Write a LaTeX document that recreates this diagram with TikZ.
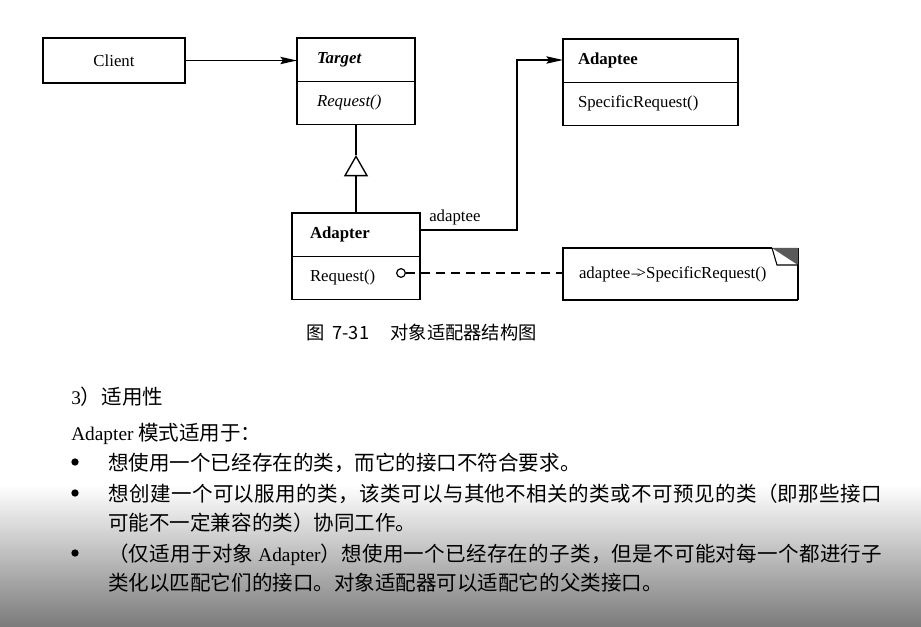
\documentclass[tikz,border=0pt]{standalone}
\usepackage{fontspec}
\setmainfont{Liberation Serif}
\newfontfamily\cjk{Noto Sans CJK SC}
\usetikzlibrary{arrows.meta,shapes.multipart,positioning}
\XeTeXlinebreaklocale "zh"
\XeTeXlinebreakskip=0pt plus 2pt
\newcommand{\lat}[1]{{\rmfamily\fontsize{14.5}{22.4}\selectfont #1}}

\begin{document}
\begin{tikzpicture}[x=0.75pt, y=-0.75pt,
    umlbox/.style={draw, line width=1pt, rectangle split, rectangle split parts=2,
        rectangle split part align={left,left}, anchor=north west, outer sep=0pt,
        inner ysep=8.25pt, font=\fontsize{12.6}{15}\selectfont},
    plainbox/.style={draw, line width=1pt, anchor=north west, outer sep=0pt,
        minimum width=106.5pt, minimum height=33.75pt, font=\fontsize{12.6}{15}\selectfont},
    notebox/.style={anchor=north west, outer sep=0pt, inner xsep=12pt,
        minimum height=39pt, text width=152.25pt, align=left,
        font=\fontsize{12.6}{15}\selectfont},
    assoc/.style={line width=1pt, -{Stealth[length=12.5pt, width=5.5pt, inset=2pt]}},
    realize/.style={line width=1pt, dash pattern=on 6.75pt off 4.5pt},
    dot/.style={circle, fill, inner sep=0pt, minimum size=5.5pt},
    textline/.style={anchor=base west, inner sep=0pt, font=\cjk\fontsize{15.4}{22.4}\selectfont},
    para/.style={textline, text width=580.5pt, align=justify}]
  \useasboundingbox (0,0) rectangle (921,627);
  \shade[top color=white, bottom color=black!52] (0,485) rectangle (921,627);

  % class structure
  \node[plainbox] (client) at (43,38) {Client};
  \node[umlbox, minimum width=88.5pt, inner xsep=15pt] (target) at (297,38)
      {\strut\textbf{\textit{Target}}\nodepart{two}\strut\textit{Request()}};
  \node[umlbox, minimum width=131.25pt, inner xsep=11.25pt] (adaptee) at (563,39)
      {\strut\textbf{Adaptee}\nodepart{two}\strut SpecificRequest()};
  \node[umlbox, minimum width=96pt, inner xsep=13.5pt] (adapter) at (292,213)
      {\strut\textbf{Adapter}\nodepart{two}\strut Request()};
  \node[circle, draw, line width=0.9pt, minimum size=6.5pt, inner sep=0pt] (call) at (401,273) {};
  \node[notebox] (note) at (563,248) {adaptee\kern1pt--\kern-2.5pt>SpecificRequest()};

  % note outline with folded corner
  \draw[line width=1pt] ([xshift=-19.5pt]note.north east) -- (note.north west)
      -- (note.south west) -- (note.south east);
  \draw[line width=1.7pt] (note.north east) -- (note.south east);
  \fill[black!65] ([xshift=-19.5pt]note.north east) -- (note.north east)
      -- ([yshift=-12.75pt]note.north east) -- cycle;
  \draw[line width=0.8pt] ([xshift=-19.5pt]note.north east)
      -- ([xshift=-15.75pt,yshift=-12.75pt]note.north east) -- ([yshift=-12.75pt]note.north east);

  \draw[assoc] (client.east) -- (client.east -| target.west);
  \coordinate (gen) at (356,155);
  \draw[line width=1pt, -{Triangle[open, length=16pt, width=18pt]}] (adapter.north) -- (gen);
  \draw[line width=1pt] (gen) -- (target.south);
  \draw[assoc] ([yshift=-12.75pt]adapter.north east)
      -- node[above, pos=0.36, font=\fontsize{12.6}{15}\selectfont] {adaptee} ++(97,0)
      |- ([yshift=-15.75pt]adaptee.north west);
  \draw[realize] (call) -- (call -| note.west);

  \node[anchor=west, inner sep=0pt, font=\cjk\fontsize{13.7}{16}\selectfont] (caption) at (306,333)
      {图\hspace{6pt}7-31\hspace{16pt}对象适配器结构图};

  % applicability
  \node[textline] (head) at (71,404) {\lat{3}）适用性};
  \node[textline] (intro) at (71,440) {\lat{Adapter} 模式适用于：};
  \node[dot] (b1) at (75,462) {};
  \node[dot] (b2) at (75,493) {};
  \node[dot] (b3) at (75,553) {};
  \node[para] (use1) at (108,470) {想使用一个已经存在的类，而它的接口不符合要求。};
  \node[para] (use2) at (108,501) {想创建一个可以服用的类，该类可以与其他不相关的类或不可预见的类（即那些接口\linebreak 可能不一定兼容的类）协同工作。};
  \node[para] (use3) at (108,561) {（仅适用于对象 \lat{Adapter}）想使用一个已经存在的子类，但是不可能对每一个都进行子\linebreak 类化以匹配它们的接口。对象适配器可以适配它的父类接口。};
\end{tikzpicture}
\end{document}
